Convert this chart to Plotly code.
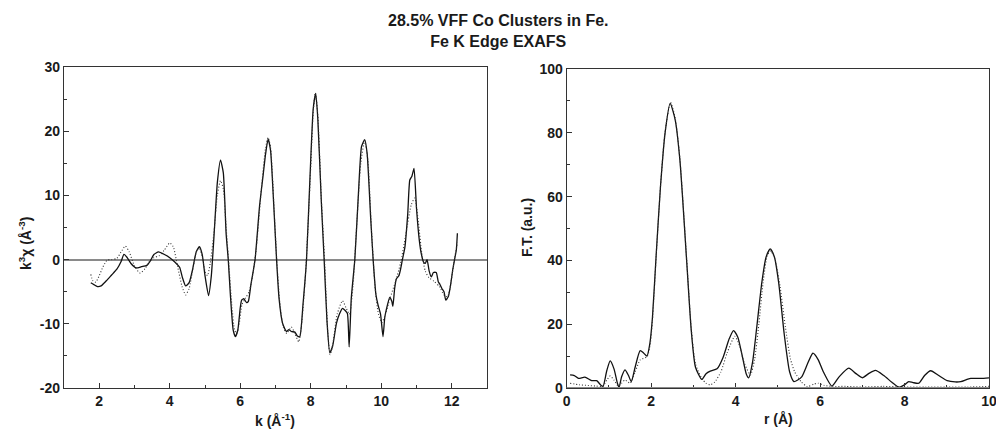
import plotly.graph_objects as go

# ---- Left panel: k^3 chi(k) ----
k_exp = [1.76, 1.85, 1.95, 2.05, 2.2, 2.35, 2.5, 2.62, 2.7, 2.78, 2.9, 3.05, 3.2, 3.35, 3.45, 3.55, 3.68,
         3.85, 4.0, 4.15, 4.28, 4.36, 4.45, 4.55, 4.65, 4.75, 4.84, 4.92, 5.0, 5.1, 5.18, 5.27, 5.35, 5.44,
         5.52, 5.6, 5.66, 5.72, 5.8, 5.86, 5.93, 6.0, 6.04, 6.1, 6.18, 6.23, 6.3, 6.42, 6.55, 6.65, 6.72,
         6.79, 6.86, 6.95, 7.03, 7.1, 7.2, 7.31, 7.38, 7.45, 7.55, 7.62, 7.69, 7.78, 7.88, 7.98, 8.07, 8.14,
         8.2, 8.3, 8.38, 8.46, 8.54, 8.62, 8.73, 8.82, 8.9, 8.97, 9.04, 9.09, 9.15, 9.25, 9.35, 9.44, 9.53,
         9.6, 9.7, 9.77, 9.85, 9.91, 9.98, 10.05, 10.1, 10.14, 10.24, 10.3, 10.33, 10.38, 10.43, 10.5,
         10.54, 10.6, 10.67, 10.75, 10.81, 10.87, 10.93, 11.0, 11.08, 11.14, 11.2, 11.25, 11.3, 11.36,
         11.42, 11.48, 11.56, 11.62, 11.66, 11.72, 11.78, 11.83, 11.9, 11.96, 12.03, 12.09, 12.13, 12.16]
chi_exp = [-3.6, -3.9, -4.2, -4.1, -3.3, -2.4, -1.5, -0.3, 0.8, 0.4, -0.6, -1.3, -1.1, -0.9, -0.2, 0.8, 1.2,
           0.8, 0.3, -0.4, -1.2, -2.8, -4.1, -3.6, -1.5, 1.2, 2.0, 0.8, -2.5, -5.6, -2.5, 5.0, 12.0, 15.5,
           13.5, 4.0, 0.0, -5.5, -11.0, -12.0, -11.0, -7.5, -6.3, -6.1, -6.7, -6.5, -4.0, 0.0, 8.5, 13.2, 16.5,
           18.8, 17.0, 8.5, 0.0, -6.0, -9.9, -11.2, -10.9, -11.2, -11.3, -11.9, -12.0, -7.0, 0.0, 13.0, 23.5, 25.9,
           22.0, 9.0, 0.0, -9.5, -14.5, -13.5, -9.9, -8.4, -7.6, -7.9, -8.4, -13.6, -6.0, 0.0, 10.0, 17.6, 18.7,
           16.5, 6.5, 0.0, -5.5, -7.1, -8.5, -12.0, -9.0, -7.9, -5.9, -6.5, -7.3, -4.5, -3.0, -2.5,
           -1.7, 0.0, 1.9, 7.0, 12.4, 13.0, 14.2, 8.0, 3.0, 0.8, -0.4, -0.6, 0.0, -1.8,
           -2.7, -2.0, -2.0, -3.5, -3.8, -4.5, -5.0, -6.3, -5.8, -4.2, -1.5, 0.3, 1.5, 4.1]

k_fit = [1.76, 1.82, 1.9, 2.0, 2.1, 2.22, 2.35, 2.5, 2.62, 2.74, 2.85, 3.0, 3.16, 3.3, 3.42, 3.55, 3.7, 3.85,
         4.0, 4.1, 4.22, 4.35, 4.45, 4.55, 4.67, 4.77, 4.84, 4.92, 5.0, 5.07, 5.15, 5.25, 5.35, 5.44, 5.52,
         5.6, 5.68, 5.76, 5.84, 5.9, 5.97, 6.05, 6.15, 6.25, 6.35, 6.45, 6.6, 6.72, 6.79, 6.86, 6.95, 7.03,
         7.12, 7.22, 7.32, 7.45, 7.55, 7.66, 7.75, 7.86, 7.98, 8.07, 8.13, 8.2, 8.3, 8.4, 8.48, 8.55, 8.63,
         8.75, 8.9, 9.0, 9.1, 9.2, 9.3, 9.42, 9.53, 9.62, 9.72, 9.82, 9.92, 10.02, 10.12, 10.25, 10.4, 10.55,
         10.7, 10.85, 10.95, 11.05, 11.15, 11.25, 11.35, 11.5, 11.65, 11.78, 11.88, 11.98, 12.06, 12.16]
chi_fit = [-2.3, -3.3, -3.5, -2.5, -1.2, -0.1, 0.0, 0.2, 1.2, 2.1, 1.2, -1.0, -2.1, -1.4, -0.3, 0.3, 0.6, 1.5,
           2.6, 2.0, -1.0, -4.2, -5.5, -4.5, -1.0, 1.5, 1.8, 0.5, -1.8, -2.5, -0.5, 4.0, 10.0, 12.3, 11.0,
           5.0, -1.0, -7.0, -11.0, -11.5, -10.0, -7.0, -6.0, -5.0, -2.5, 1.5, 11.0, 17.5, 19.0, 17.5, 9.0, 0.5,
           -6.5, -10.5, -11.5, -10.5, -11.5, -12.8, -9.5, -1.5, 12.0, 23.0, 26.0, 22.5, 9.5, -1.0, -11.0, -14.8, -13.0,
           -8.5, -6.4, -7.5, -8.5, -4.0, 5.0, 15.0, 18.5, 15.5, 5.0, -4.0, -8.5, -9.8, -8.5, -6.0, -3.5, -0.5,
           4.0, 8.5, 9.6, 6.0, 1.0, -1.8, -2.8, -3.4, -4.2, -5.5, -5.8, -3.5, -0.5, 2.7]

# ---- Right panel: Fourier transform magnitude ----
r_exp = [0.08, 0.18, 0.28, 0.43, 0.59, 0.71, 0.8, 0.86, 0.95, 1.03, 1.12, 1.2, 1.24, 1.3, 1.38, 1.46, 1.53,
         1.62, 1.74, 1.82, 1.9, 1.97, 2.03, 2.12, 2.22, 2.33, 2.45, 2.57, 2.68, 2.84, 2.95, 3.05, 3.2, 3.3,
         3.4, 3.56, 3.7, 3.85, 3.95, 4.05, 4.15, 4.25, 4.31, 4.4, 4.5, 4.62, 4.72, 4.82, 4.92, 5.02, 5.15,
         5.28, 5.38, 5.47, 5.57, 5.7, 5.83, 5.95, 6.08, 6.28, 6.45, 6.68, 6.85, 7.0, 7.15, 7.31, 7.5, 7.7,
         7.87, 8.0, 8.1, 8.2, 8.34, 8.48, 8.62, 8.8, 9.01, 9.2, 9.33, 9.5, 9.57, 9.8, 10.0]
ft_exp = [4.1, 3.9, 3.0, 3.4, 2.3, 2.3, 1.0, 0.5, 5.5, 8.5, 6.0, 1.5, 0.2, 3.5, 5.7, 4.0, 2.0,
          6.5, 11.7, 11.0, 10.0, 14.0, 22.0, 42.0, 63.0, 80.0, 89.2, 84.0, 71.5, 40.0, 18.0, 6.5, 2.7, 4.5,
          5.3, 6.0, 9.5, 15.5, 18.0, 16.0, 10.5, 4.5, 3.2, 8.0, 19.0, 33.0, 41.0, 43.6, 41.0, 33.0, 17.0,
          5.0, 2.0, 2.5, 3.6, 7.5, 10.9, 9.0, 5.0, 0.6, 3.5, 6.2, 4.5, 3.2, 4.5, 5.5, 4.0, 1.8,
          0.2, 1.0, 2.0, 1.7, 1.5, 4.0, 5.4, 4.0, 2.3, 1.9, 2.0, 2.8, 3.0, 3.0, 3.2]

r_fit = [0.08, 0.3, 0.5, 0.7, 0.85, 0.95, 1.03, 1.12, 1.22, 1.3, 1.38, 1.5, 1.62, 1.74, 1.9, 1.97, 2.03,
         2.12, 2.22, 2.33, 2.46, 2.57, 2.68, 2.84, 2.95, 3.05, 3.2, 3.3, 3.4, 3.5, 3.65, 3.8, 3.98, 4.1,
         4.2, 4.35, 4.45, 4.55, 4.65, 4.75, 4.83, 4.93, 5.05, 5.18, 5.3, 5.4, 5.55, 5.7, 5.85, 5.95, 6.1,
         6.3, 6.6, 7.0, 7.5, 8.0, 8.5, 9.0, 9.5, 10.0]
ft_fit = [1.5, 1.0, 0.8, 0.6, 0.5, 2.5, 3.8, 2.5, 0.6, 1.5, 2.5, 1.5, 5.0, 8.8, 9.8, 13.0, 21.0,
          41.5, 63.0, 80.5, 89.5, 84.5, 72.0, 40.5, 18.5, 7.5, 3.0, 1.5, 1.0, 1.8, 5.0, 11.0, 16.2, 13.0,
          8.0, 4.1, 9.0, 20.0, 33.0, 41.5, 43.0, 40.5, 32.0, 19.0, 9.0, 5.0, 2.0, 0.4, 1.2, 1.5, 0.8,
          0.5, 0.5, 0.3, 0.5, 0.3, 0.3, 0.3, 0.3, 0.5]

# ---- Tick labels ----
left_y_ticks = [-20, -10, 0, 10, 20, 30]
left_y_labels = ["-20", "-10", "0", "10", "20", "30"]
left_x_ticks = [2, 4, 6, 8, 10, 12]
right_x_ticks = [0, 2, 4, 6, 8, 10]
right_y_ticks = [0, 20, 40, 60, 80, 100]

title_lines = ["28.5% VFF Co Clusters in Fe.", "Fe K Edge EXAFS"]

FONT = "Liberation Sans, Arial, Helvetica, sans-serif"
INK = "#1a1a1a"
W, H = 996, 430

fig = go.Figure()
fig.add_trace(go.Scatter(x=k_exp, y=chi_exp, mode="lines", line=dict(color="#111", width=1.3, shape="spline", smoothing=0.5),
                         xaxis="x", yaxis="y", showlegend=False))
fig.add_trace(go.Scatter(x=k_fit, y=chi_fit, mode="lines", line=dict(color="#333", width=1.1, dash="1px,2px", shape="spline", smoothing=0.6),
                         xaxis="x", yaxis="y", showlegend=False))
fig.add_trace(go.Scatter(x=r_exp, y=ft_exp, mode="lines", line=dict(color="#111", width=1.3, shape="spline", smoothing=0.6),
                         xaxis="x2", yaxis="y2", showlegend=False))
fig.add_trace(go.Scatter(x=r_fit, y=ft_fit, mode="lines", line=dict(color="#333", width=1.1, dash="1px,2px", shape="spline", smoothing=0.6),
                         xaxis="x2", yaxis="y2", showlegend=False))

tickfont = dict(family=FONT, size=14, color=INK, weight="bold")
titlefont = dict(family=FONT, size=14, color=INK, weight="bold")
common = dict(showline=True, linecolor="#333", linewidth=1.2, mirror=True, showgrid=False, automargin=False,
              ticks="inside", ticklen=5, tickcolor="#333", tickwidth=1, tickfont=tickfont,
              ticklabeloverflow="allow")

ybot = (H - 388) / H

def px_x(p):
    return p / W

def px_y(p):
    return 1 - p / H

fig.update_layout(
    width=W, height=H,
    margin=dict(l=0, r=0, t=0, b=0),
    paper_bgcolor="white", plot_bgcolor="white",
    xaxis=dict(domain=[64 / W, 487 / W], range=[1, 13], tickvals=left_x_ticks,
               minor=dict(tickvals=[1, 3, 5, 7, 9, 11, 13], ticks="inside", ticklen=3, tickcolor="#333"),
               zeroline=False, anchor="y", **common),
    yaxis=dict(domain=[ybot, (H - 67) / H], range=[-20, 30], tickvals=left_y_ticks, ticktext=left_y_labels,
               minor=dict(tickvals=[-15, -5, 5, 15, 25], ticks="inside", ticklen=3, tickcolor="#333"),
               zeroline=True, zerolinecolor="#8a8a8a", zerolinewidth=1.6, anchor="x", **common),
    xaxis2=dict(domain=[566.7 / W, 989 / W], range=[0, 10], tickvals=right_x_ticks,
                minor=dict(tickvals=[1, 3, 5, 7, 9], ticks="inside", ticklen=3, tickcolor="#333"),
                zeroline=False, anchor="y2", **common),
    yaxis2=dict(domain=[ybot, (H - 69) / H], range=[0, 100], tickvals=right_y_ticks,
                minor=dict(tickvals=[10, 30, 50, 70, 90], ticks="inside", ticklen=3, tickcolor="#333"),
                zeroline=False, anchor="x2", **common),
    shapes=[dict(type="line", xref="x2 domain", yref="y2", x0=0, x1=1, y0=0, y1=0,
                 line=dict(color="#8a8a8a", width=1.8), layer="above")],
    annotations=[
        dict(text="<br>".join(title_lines), x=0.5, y=px_y(31), xref="paper", yref="paper",
             xanchor="center", yanchor="middle", showarrow=False, align="center",
             font=dict(family=FONT, size=16, color=INK, weight="bold")),
        dict(text="k (Å<sup>-1</sup>)", x=px_x(275), y=px_y(420), xref="paper", yref="paper",
             xanchor="center", yanchor="middle", showarrow=False, font=titlefont),
        dict(text="r (Å)", x=px_x(778), y=px_y(419), xref="paper", yref="paper",
             xanchor="center", yanchor="middle", showarrow=False, font=titlefont),
        dict(text="k<sup>3</sup>χ (Å<sup>-3</sup>)", x=px_x(25), y=px_y(244), xref="paper", yref="paper",
             xanchor="center", yanchor="middle", showarrow=False, textangle=-90, font=titlefont),
        dict(text="F.T. (a.u.)", x=px_x(527), y=px_y(228), xref="paper", yref="paper",
             xanchor="center", yanchor="middle", showarrow=False, textangle=-90, font=titlefont),
    ],
)

fig.write_html("out.html", config={"displayModeBar": False},
               post_script="document.body.style.margin='0';document.body.style.padding='0';document.body.style.overflow='hidden';")
